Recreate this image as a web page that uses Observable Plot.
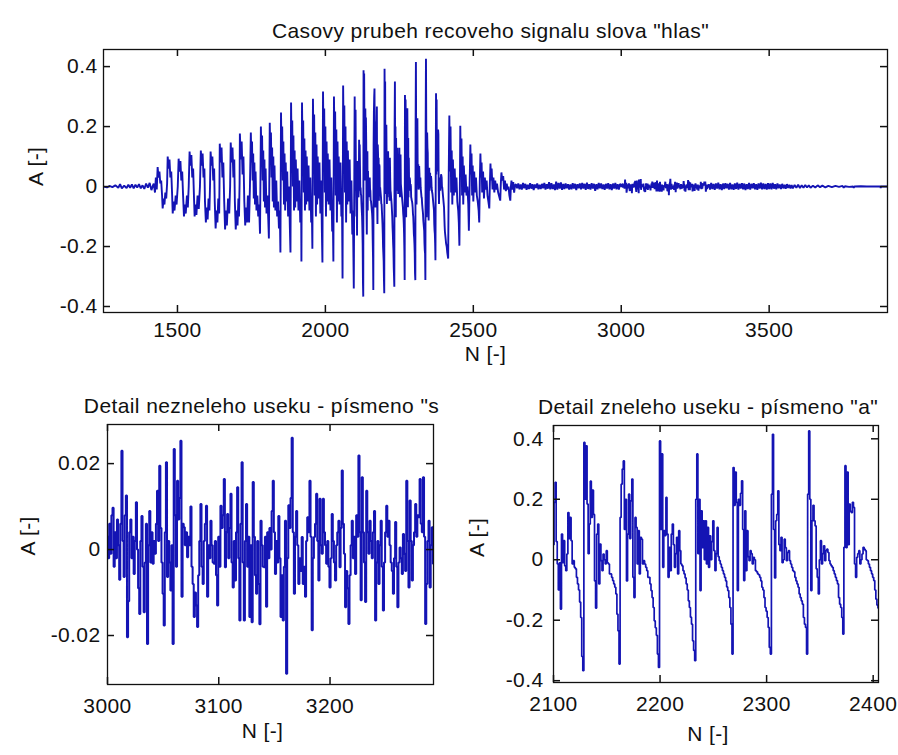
<!DOCTYPE html>
<html><head><meta charset="utf-8">
<script src="https://cdn.jsdelivr.net/npm/d3@7"></script>
<script src="https://cdn.jsdelivr.net/npm/@observablehq/plot@0.6"></script>
<style>
body{margin:0;background:#fff;}
#fig{position:relative;width:898px;height:755px;background:#fff;overflow:hidden;}
#fig > svg{position:absolute;}
</style></head><body><div id="fig"></div>
<script>
// ---------- titles / labels ----------
const topTitle = 'Casovy prubeh recoveho signalu slova "hlas"';
const sTitle = 'Detail nezneleho useku - písmeno "s';
const aTitle = 'Detail zneleho useku - písmeno "a"';
const xLabel = "N [-]";
const yLabel = "A [-]";

// ---------- tick values ----------
const topXTicks = [1500, 2000, 2500, 3000, 3500];
const topYTicks = [-0.4, -0.2, 0, 0.2, 0.4];
const sXTicks = [3000, 3100, 3200];
const sYTicks = [-0.02, 0, 0.02];
const aXTicks = [2100, 2200, 2300, 2400];
const aYTicks = [-0.4, -0.2, 0, 0.2, 0.4];

// ---------- axis ranges ----------
const topXDomain = [1250, 3900], topYDomain = [-0.42, 0.457];
const sXDomain = [3000, 3293], sYDomain = [-0.0314, 0.0291];
const aXDomain = [2100, 2405], aYDomain = [-0.406, 0.444];

// ---------- detail of voiced "a": one value per sample from aStart ----------
const aStart = 2100;
const aValues = [
 0.05, 0.19, 0.256, 0.06, -0.014, -0.10, -0.01, -0.163, 0.085, -0.01,
 0.063, -0.02, -0.036, 0.019, 0.156, 0.07, 0.14, 0.063, -0.014, -0.003,
 -0.025, -0.03, -0.058, -0.08, -0.10, -0.14, -0.191, -0.32, -0.367, 0.388,
 0.2, 0.377, 0.184, 0.02, 0.118, 0.26, 0.14, 0.23, 0.15, -0.07,
 -0.16, 0.085, 0.118, -0.08, 0.052, -0.003, -0.036, 0.019, 0.0, -0.014,
 0.03, -0.01, -0.014, -0.047, -0.047, -0.058, -0.069, -0.08, -0.091, -0.113,
 -0.18, -0.235, -0.345, 0.14, 0.25, 0.3, 0.327, 0.1, 0.2, -0.07,
 0.085, 0.217, 0.07, 0.195, 0.267, -0.058, -0.125, 0.14, 0.107, -0.014,
 0.096, -0.047, 0.074, 0.068, -0.014, -0.003, -0.014, -0.025, -0.036, -0.058,
 -0.058, -0.08, -0.102, -0.125, -0.158, -0.202, -0.225, -0.25, -0.312, -0.356,
 0.393, 0.1, 0.35, -0.025, 0.096, 0.08, 0.206, 0.085, -0.058, 0.041,
 -0.036, 0.085, 0.118, 0.05, -0.025, 0.02, 0.074, -0.047, 0.096, 0.03,
 -0.014, -0.02, -0.036, -0.047, -0.06, -0.08, -0.1, -0.136, -0.158, -0.19,
 -0.213, -0.268, -0.30, -0.334, 0.2, 0.35, 0.02, 0.2, -0.102, 0.162,
 0.04, 0.129, 0.0, 0.129, -0.014, 0.107, -0.025, 0.079, 0.0, 0.06,
 0.129, 0.03, -0.036, 0.02, 0.107, 0.01, -0.003, -0.014, -0.025, -0.036,
 -0.047, -0.058, -0.07, -0.09, -0.102, -0.125, -0.158, -0.213, -0.312, 0.305,
 0.18, 0.29, 0.19, -0.102, 0.2, 0.18, 0.22, 0.261, 0.1, -0.069,
 0.162, -0.036, 0.096, 0.01, -0.003, 0.03, 0.02, -0.014, 0.008, 0.0,
 -0.036, -0.04, -0.047, -0.05, -0.058, -0.07, -0.091, -0.1, -0.125, -0.158,
 -0.17, -0.191, -0.224, -0.29, -0.312, 0.217, 0.415, 0.1, -0.06, 0.129,
 0.15, 0.228, 0.05, 0.03, 0.074, -0.01, 0.0, 0.068, 0.04, -0.003,
 0.024, 0.03, -0.003, -0.014, -0.025, -0.036, -0.04, -0.058, -0.07, -0.08,
 -0.091, -0.113, -0.125, -0.136, -0.147, -0.191, -0.213, -0.224, -0.312, 0.217,
 0.426, 0.2, -0.102, 0.129, 0.18, 0.129, 0.112, -0.03, -0.058, -0.113,
 0.0, 0.063, -0.014, 0.02, 0.046, -0.003, 0.03, 0.035, 0.024, -0.003,
 -0.014, -0.02, -0.025, -0.036, -0.047, -0.058, -0.069, -0.08, -0.125, -0.147,
 -0.158, -0.191, -0.246, 0.041, 0.311, 0.04, 0.29, 0.05, 0.184, 0.16,
 0.156, 0.19, 0.173, -0.014, -0.058, 0.008, 0.02, 0.03, -0.014, 0.0,
 0.019, 0.041, 0.035, 0.03, 0.0, -0.003, -0.014, -0.025, -0.036, -0.047,
 -0.058, -0.069, -0.1, -0.13, -0.15, -0.16
];

// ---------- detail of unvoiced "s": one value per sample from sStart ----------
const sStart = 3000;
const sValues = [
 0.003, -0.002, 0.006, -0.001, 0.008, 0.0097, -0.004, 0.004, -0.002, 0.007,
 0.001, -0.007, 0.006, 0.023, 0.002, -0.0064, 0.008, 0.0126, -0.0204, -0.012,
 0.004, 0.007, -0.002, 0.003, -0.0057, 0.002, 0.011, 0.0, -0.009, -0.015,
 0.002, 0.0078, -0.004, -0.0146, -0.003, 0.006, -0.022, 0.001, 0.009, -0.003,
 0.004, -0.0033, 0.002, -0.001, 0.006, 0.0137, 0.002, 0.0195, 0.005, -0.003,
 -0.0103, -0.0177, 0.004, 0.0203, -0.0064, 0.002, -0.003, -0.0095, 0.001, -0.022,
 0.0234, 0.008, -0.004, 0.016, 0.007, 0.012, 0.0253, -0.011, 0.006, 0.0052,
 0.001, 0.004, -0.0018, 0.003, 0.001, 0.01, -0.004, -0.008, -0.0157, -0.01,
 -0.013, -0.018, -0.006, 0.002, 0.0106, -0.004, -0.008, 0.002, 0.006, 0.0102,
 -0.011, 0.001, -0.002, 0.0067, 0.001, -0.003, -0.0033, 0.002, -0.006, -0.013,
 0.003, -0.004, 0.0102, 0.005, 0.008, 0.0164, -0.0041, 0.004, 0.0083, -0.002,
 0.005, 0.013, -0.003, -0.0088, 0.002, -0.0072, 0.004, 0.0145, -0.002, -0.0165,
 0.006, 0.0203, -0.003, -0.0165, 0.002, 0.0106, -0.004, 0.003, -0.0157, 0.001,
 -0.0169, 0.0157, 0.003, -0.006, -0.0103, 0.002, -0.008, -0.0174, 0.0067, 0.001,
 -0.004, -0.0041, 0.003, -0.0133, 0.004, -0.002, 0.005, 0.0, 0.009, 0.016,
 0.004, -0.0057, 0.002, -0.003, 0.0078, -0.002, -0.0157, -0.006, -0.0165, -0.004,
 0.0067, -0.0289, -0.002, 0.0103, 0.005, 0.012, 0.026, 0.004, -0.0103, 0.003,
 0.009, 0.001, -0.008, -0.002, -0.005, 0.0029, -0.008, -0.004, -0.011, 0.002,
 0.0075, 0.004, 0.016, 0.003, -0.0188, -0.002, 0.0029, 0.006, 0.013, 0.002,
 -0.0072, 0.0118, 0.001, -0.001, 0.0118, 0.004, 0.001, -0.0033, 0.002, -0.004,
 -0.0088, -0.002, 0.0083, 0.002, -0.003, -0.0072, 0.001, 0.004, 0.0067, -0.0041,
 0.005, 0.0184, 0.006, -0.001, -0.0134, -0.005, -0.009, -0.0173, -0.006, 0.001,
 0.0067, -0.002, 0.003, -0.0057, 0.008, 0.003, 0.0219, 0.004, -0.0118, 0.0168,
 0.004, -0.003, -0.0122, 0.0137, 0.004, -0.001, 0.0067, 0.002, -0.002, 0.004,
 0.009, -0.0165, -0.003, 0.002, -0.008, 0.001, 0.0067, -0.004, -0.0142, -0.003,
 0.004, 0.0102, 0.003, 0.0067, 0.001, -0.003, -0.005, -0.0103, -0.002, 0.0064,
 -0.004, -0.0134, -0.003, 0.0005, -0.002, -0.0057, 0.0036, -0.001, -0.005, 0.016,
 0.002, -0.0088, 0.0114, 0.002, -0.0072, 0.001, 0.004, 0.0106, 0.003, 0.008,
 0.0075, 0.0164, 0.006, 0.004, 0.0168, 0.003, -0.0173, -0.008, 0.002, 0.0067,
 -0.0088, 0.001, 0.0052, -0.0033
];

// ---------- whole word, remaining stretches as [N, A] vertices ----------
const leadSeg = [[1250,0.0],[1262,-0.003],[1270,0.002],[1280,-0.002],[1290,0.004],[1300,-0.004],[1306,0.008],[1312,-0.006],[1320,0.003],[1328,-0.005],[1334,0.006],[1340,-0.004],[1346,0.007],[1352,-0.006],[1358,0.006],[1364,-0.003],[1370,0.008],[1376,-0.006],[1382,0.004],[1388,-0.008],[1394,0.01],[1400,-0.004],[1406,0.012],[1412,-0.012],[1418,0.006]];

const onsetSeg = [
 [1420,0.01],[1424,-0.02],[1427,0.03],[1430,-0.01],[1433,0.065],[1436,0.03],[1439,0.05],[1442,0.01],[1445,0.02],[1448,-0.03],[1450,-0.073],[1453,-0.04],[1456,-0.06],[1459,-0.02],[1462,-0.04],[1465,0.01],
 [1467,0.10],[1470,0.06],[1473,0.09],[1476,0.03],[1479,0.05],[1482,-0.03],[1484,-0.09],[1487,-0.05],[1490,-0.08],[1494,-0.03],[1497,-0.06],[1501,0.0],
 [1504,0.093],[1507,0.05],[1510,0.085],[1513,0.02],[1516,0.05],[1519,-0.03],[1522,-0.10],[1525,-0.06],[1528,-0.09],[1532,-0.03],[1535,-0.07],[1538,0.0],
 [1541,0.117],[1544,0.07],[1547,0.105],[1550,0.03],[1553,0.06],[1556,-0.04],[1558,-0.10],[1561,-0.06],[1564,-0.095],[1568,-0.03],[1572,-0.075],[1576,0.0],
 [1579,0.12],[1582,0.07],[1585,0.11],[1588,0.03],[1591,0.06],[1593,-0.05],[1596,-0.12],[1599,-0.07],[1602,-0.11],[1605,-0.04],[1608,-0.08],[1610,0.0],
 [1612,0.117],[1615,0.07],[1618,0.1],[1621,0.02],[1624,0.06],[1626,-0.05],[1629,-0.14],[1632,-0.08],[1635,-0.12],[1638,-0.04],[1641,-0.09],[1642,0.0],
 [1643,0.143],[1646,0.08],[1649,0.13],[1652,0.03],[1655,0.08],[1658,-0.05],[1661,-0.143],[1664,-0.08],[1667,-0.13],[1671,-0.04],[1675,-0.09],[1678,0.0],
 [1680,0.147],[1683,0.08],[1686,0.13],[1689,0.03],[1692,0.09],[1694,-0.05],[1697,-0.143],[1700,-0.08],[1703,-0.13],[1706,-0.04],[1708,-0.1],[1710,0.01],
 [1711,0.177],[1714,0.09],[1717,0.15],[1720,0.04],[1723,0.1],[1726,-0.05],[1729,-0.13],[1732,-0.07],[1735,-0.12],[1738,-0.03],[1742,-0.12],[1745,0.0],
 [1748,0.18],[1750,0.08],[1752,0.15],[1754,0.02],[1756,0.11],[1758,-0.04],[1760,0.08],[1762,-0.06],[1764,0.05],[1767,-0.08],[1770,-0.03],[1773,-0.1],[1776,-0.06],[1779,-0.157],
 [1782,0.2],[1784,0.09],[1786,0.17],[1788,0.02],[1790,0.12],[1792,-0.05],[1794,0.09],[1796,-0.07],[1798,0.06],[1801,-0.09],[1804,-0.03],[1807,-0.11],[1809,-0.173],
 [1812,0.213],[1814,0.1],[1816,0.18],[1818,0.03],[1820,0.13],[1822,-0.05],[1824,0.1],[1826,-0.07],[1828,0.07],[1831,-0.08],[1834,0.02],[1837,-0.1],[1840,-0.05],[1843,-0.14],[1846,-0.08],[1848,-0.22],
 [1850,0.247],[1852,0.1],[1854,0.2],[1856,0.02],[1858,0.15],[1860,-0.06],[1862,0.11],[1864,-0.08],[1866,0.08],[1868,-0.05],[1871,0.05],[1874,-0.1],[1877,0.0],[1880,-0.14],[1882,-0.22],
 [1884,0.28],[1886,0.1],[1888,0.22],[1890,0.0],[1892,0.17],[1894,-0.08],[1896,0.12],[1898,-0.07],[1900,0.09],[1903,-0.05],[1906,0.06],[1909,-0.08],[1912,0.02],[1915,-0.12],[1918,-0.05],[1919,-0.25],
 [1921,0.28],[1923,0.1],[1925,0.22],[1927,-0.02],[1929,0.16],[1931,-0.08],[1933,0.12],[1935,-0.06],[1937,0.1],[1940,-0.05],[1943,0.07],[1946,-0.08],[1949,0.03],[1952,-0.12],[1954,-0.06],[1956,-0.207],
 [1958,0.293],[1960,0.1],[1962,0.24],[1964,-0.03],[1966,0.18],[1968,-0.1],[1970,0.14],[1972,-0.06],[1974,0.1],[1977,-0.04],[1980,0.08],[1983,-0.09],[1986,0.02],[1988,-0.14],[1990,-0.253],
 [1992,0.317],[1994,0.12],[1996,0.26],[1998,-0.02],[2000,0.2],[2002,-0.1],[2004,0.15],[2006,-0.05],[2008,0.11],[2011,-0.06],[2014,0.09],[2017,-0.08],[2020,0.03],[2023,-0.15],[2025,-0.08],[2027,-0.25],
 [2029,0.3],[2031,0.12],[2033,0.25],[2035,-0.03],[2037,0.19],[2039,-0.12],[2041,0.15],[2043,-0.05],[2045,0.1],[2048,-0.06],[2051,0.08],[2054,-0.1],[2056,-0.04],[2058,-0.307],
 [2060,0.337],[2062,0.12],[2064,0.27],[2066,-0.02],[2068,0.2],[2070,-0.12],[2072,0.15],[2074,-0.06],[2076,0.12],[2079,-0.05],[2082,0.09],[2085,-0.09],[2088,0.02],[2091,-0.16],[2093,-0.08],[2096,-0.34],[2099,0.3]
];

const decaySeg = [
 [2406,-0.17],[2408,-0.19],[2410,-0.2],[2412,-0.22],[2415,-0.24],[2417,0.05],[2419,0.237],[2421,0.05],[2423,0.2],[2425,-0.02],[2427,0.12],[2429,-0.06],[2431,0.09],[2434,-0.03],[2437,0.06],[2440,-0.02],[2443,0.03],[2446,-0.05],[2449,-0.08],[2451,-0.12],[2453,-0.197],
 [2455,0.05],[2456,0.203],[2458,0.04],[2460,0.16],[2462,-0.03],[2464,0.1],[2466,-0.06],[2468,0.07],[2471,-0.02],[2474,0.04],[2477,-0.03],[2480,0.0],[2483,-0.06],[2485,-0.147],
 [2488,0.03],[2490,0.14],[2492,0.04],[2494,0.11],[2496,-0.03],[2498,0.07],[2500,-0.05],[2503,0.05],[2506,-0.02],[2509,0.03],[2512,-0.03],[2515,-0.05],[2518,-0.08],[2520,-0.12],
 [2522,0.02],[2524,0.11],[2526,0.03],[2528,0.08],[2530,-0.02],[2533,0.05],[2536,-0.04],[2539,0.03],[2542,-0.01],[2545,0.02],[2548,-0.03],[2551,-0.05],[2554,-0.073],
 [2556,0.01],[2558,0.077],[2560,0.02],[2562,0.06],[2565,-0.01],[2568,0.03],[2571,-0.02],[2574,0.02],[2577,-0.01],[2580,0.01],[2584,-0.02],[2588,-0.035],[2591,-0.047],
 [2593,0.01],[2595,0.047],[2598,0.02],[2601,0.035],[2604,-0.01],[2607,0.02],[2610,-0.015],[2613,0.01],[2616,-0.01],[2619,0.0],[2622,-0.03],[2625,-0.047],
 [2627,0.0],[2629,0.02],[2632,-0.01],[2635,0.015],[2638,-0.02],[2641,0.005]
];

const noiseSeg = [
 [2644,0.008],[2648,-0.006],[2652,0.01],[2656,-0.009],[2660,0.007],[2664,-0.01],[2668,0.012],[2672,-0.006],[2676,0.009],[2680,-0.011],[2684,0.006],[2688,-0.008],[2692,0.011],[2696,-0.007],[2700,0.008],[2704,-0.012],[2708,0.007],[2712,-0.005],[2716,0.01],[2720,-0.009],[2724,0.006],[2728,-0.008],[2732,0.009],[2736,-0.006],[2740,0.012],[2744,-0.01],[2748,0.008],[2752,-0.007],[2756,0.015],[2760,-0.009],[2764,0.011],[2768,-0.008],[2772,0.007],[2776,-0.012],[2780,0.016],[2784,-0.01],[2788,0.012],[2792,-0.007],[2796,0.014],[2800,-0.011],[2804,0.009],[2808,-0.008],[2812,0.01],[2816,-0.006],[2820,0.008],[2824,-0.01],[2828,0.007],[2832,-0.009],[2836,0.011],[2840,-0.007],[2844,0.009],[2848,-0.012],[2852,0.008],[2856,-0.006],[2860,0.01],[2864,-0.009],[2868,0.012],[2872,-0.007],[2876,0.009],[2880,-0.011],[2884,0.013],[2888,-0.008],[2892,0.008],[2896,-0.01],[2900,0.011],[2904,-0.007],[2908,0.009],[2912,-0.014],[2916,0.008],[2920,-0.009],[2924,0.012],[2928,-0.006],[2932,0.01],[2936,-0.008],[2940,0.007],[2944,-0.011],[2948,0.009],[2952,-0.007],[2956,0.011],[2960,-0.009],[2964,0.008],[2968,-0.012],[2972,0.01],[2976,-0.007],[2980,0.012],[2984,-0.009],[2988,0.008],[2992,-0.01],[2996,0.009]
];

const tailSeg = [
 [3296,0.008],[3300,-0.01],[3304,0.012],[3308,-0.008],[3312,0.009],[3316,-0.011],[3320,0.01],[3324,-0.007],[3328,0.013],[3332,-0.009],[3336,0.008],[3340,-0.012],[3344,0.01],[3348,-0.008],[3352,0.011],[3356,-0.006],[3360,0.009],[3364,-0.01],[3368,0.012],[3372,-0.009],[3376,0.007],[3380,-0.011],[3384,0.01],[3388,-0.008],[3392,0.013],[3396,-0.01],[3400,0.009],[3404,-0.007],[3408,0.011],[3412,-0.009],[3416,0.01],[3420,-0.012],[3424,0.008],[3428,-0.008],[3432,0.012],[3436,-0.01],[3440,0.009],[3444,-0.006],[3448,0.011],[3452,-0.009],[3456,0.008],[3460,-0.011],[3464,0.01],[3468,-0.007],[3472,0.013],[3476,-0.009],[3480,0.01],[3484,-0.008],[3488,0.009],[3492,-0.01],[3496,0.011],[3500,-0.008],[3504,0.01],[3508,-0.009],[3512,0.012],[3516,-0.007],[3520,0.008],[3524,-0.009],[3528,0.01],[3532,-0.006],[3536,0.007],[3540,-0.008],[3544,0.009],[3548,-0.006],[3552,0.006],[3556,-0.007],[3560,0.008],[3564,-0.005],[3568,0.006],[3572,-0.006],[3576,0.005],[3580,-0.006],[3586,0.005],[3592,-0.004],[3598,0.006],[3604,-0.005],[3610,0.004],[3616,-0.004],[3622,0.005],[3628,-0.003],[3634,0.004],[3640,-0.004],[3648,0.003],[3656,-0.003],[3664,0.004],[3672,-0.002],[3680,0.003],[3690,-0.003],[3700,0.002],[3712,-0.002],[3724,0.002],[3736,-0.001],[3748,0.002],[3752,-0.004],[3756,0.001],[3770,-0.001],[3784,0.0],[3786,-0.004],[3788,0.0],[3810,0.001],[3830,0.0],[3860,0.0],[3876,0.0],[3877,-0.005],[3878,0.0],[3900,0.0]
];

// ---------- assemble tables ----------
const fromPairs = segs => segs.map(([N, A]) => ({N, A}));
const fromSamples = (start, vals) => vals.map((A, i) => ({N: start + i, A}));
const aData = fromSamples(aStart, aValues);
const sData = fromSamples(sStart, sValues);
const topData = [
  ...fromPairs(leadSeg), ...fromPairs(onsetSeg), ...aData,
  ...fromPairs(decaySeg), ...fromPairs(noiseSeg), ...sData, ...fromPairs(tailSeg)
];

const FONT = "'Liberation Sans', Arial, sans-serif";
const LINE = "#1414b4";
const INK = "#111";

function panel(o) {
  const innerW = o.width - o.mL - o.mR, innerH = o.height - o.mT - o.mB;
  const tk = 7;
  const svg = Plot.plot({
    width: o.width, height: o.height,
    marginLeft: o.mL, marginRight: o.mR, marginTop: o.mT, marginBottom: o.mB,
    style: {fontFamily: FONT, fontSize: "21px", color: INK, background: "transparent", overflow: "visible", letterSpacing: "0.4px"},
    x: {domain: o.xDomain}, y: {domain: o.yDomain},
    marks: [
      Plot.line(o.data, {x: "N", y: "A", stroke: LINE, strokeWidth: o.sw, strokeLinejoin: "miter", curve: o.curve, clip: true}),
      Plot.frame({stroke: INK, strokeWidth: 1.3}),
      Plot.ruleX(o.xTicks, {x: d => d, insetTop: innerH - tk, stroke: INK, strokeWidth: 1.5}),
      Plot.ruleX(o.xTicks, {x: d => d, insetBottom: innerH - tk, stroke: INK, strokeWidth: 1.5}),
      Plot.ruleY(o.yTicks, {y: d => d, insetRight: innerW - tk, stroke: INK, strokeWidth: 1.5}),
      Plot.ruleY(o.yTicks, {y: d => d, insetLeft: innerW - tk, stroke: INK, strokeWidth: 1.5}),
      Plot.axisX({ticks: o.xTicks, tickSize: 0, tickPadding: o.xPad, tickFormat: d => String(d), label: null}),
      Plot.axisY({ticks: o.yTicks, tickSize: 0, tickPadding: o.yPad, tickFormat: d => String(d), label: null}),
      Plot.text([o.title], {frameAnchor: "top", dx: o.tdx, dy: o.tdy, text: d => d, fontSize: 21, fill: INK, style: {letterSpacing: "0.8px"}}),
      Plot.text([xLabel], {frameAnchor: "bottom", dx: o.xldx, dy: o.xldy, text: d => d, fill: INK}),
      Plot.text([yLabel], {frameAnchor: "left", dx: o.yldx, dy: o.yldy, rotate: -90, text: d => d, fill: INK})
    ]
  });
  svg.style.left = o.left + "px";
  svg.style.top = o.top + "px";
  return svg;
}

const fig = document.getElementById("fig");
fig.appendChild(panel({
  data: topData, xDomain: topXDomain, yDomain: topYDomain, xTicks: topXTicks, yTicks: topYTicks,
  left: 0, top: 0, width: 898, height: 380, mL: 103, mR: 11, mT: 49, mB: 68,
  title: topTitle, tdx: -5, tdy: -26, xldx: -10, xldy: 48, yldx: -67, yldy: 5,
  xPad: 10, yPad: 6, sw: 1.9, curve: "linear"
}));
fig.appendChild(panel({
  data: sData, xDomain: sXDomain, yDomain: sYDomain, xTicks: sXTicks, yTicks: sYTicks,
  left: 0, top: 380, width: 449, height: 375, mL: 107, mR: 16, mT: 44, mB: 71,
  title: sTitle, tdx: -9, tdy: -26, xldx: -8, xldy: 53, yldx: -79, yldy: 1,
  xPad: 14, yPad: 7, sw: 2, curve: "step"
}));
fig.appendChild(panel({
  data: aData, xDomain: aXDomain, yDomain: aYDomain, xTicks: aXTicks, yTicks: aYTicks,
  left: 449, top: 380, width: 449, height: 375, mL: 104, mR: 20, mT: 45, mB: 73,
  title: aTitle, tdx: -8, tdy: -26, xldx: -8, xldy: 58, yldx: -76, yldy: 3,
  xPad: 14, yPad: 10, sw: 1.7, curve: "step"
}));
</script>
</body></html>
